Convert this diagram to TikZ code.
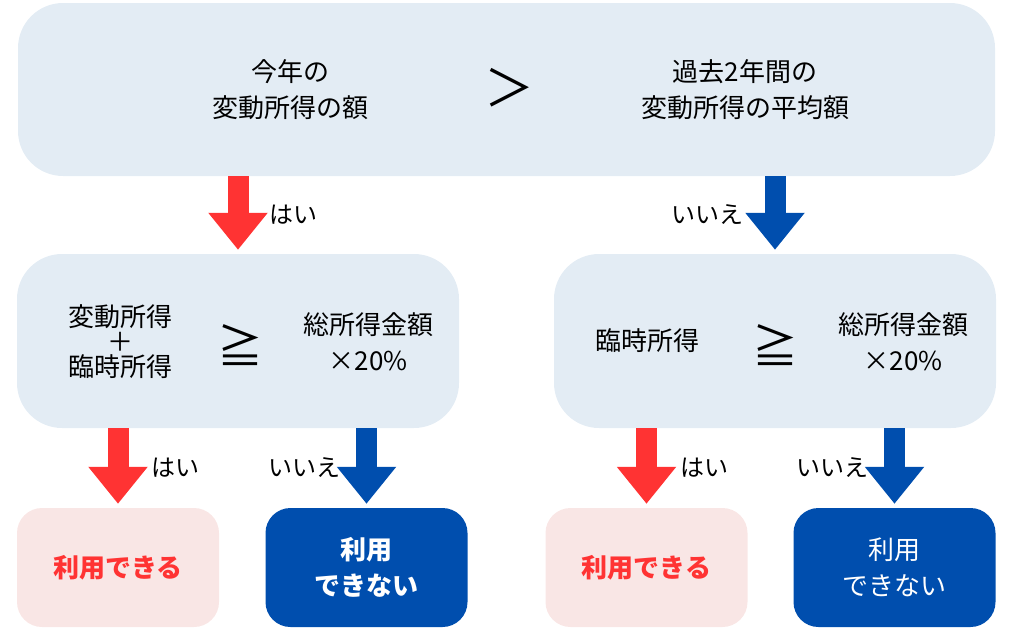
\documentclass[tikz,border=0pt]{standalone}
\usepackage{fontspec}
\setmainfont{Noto Sans CJK JP}
\usetikzlibrary{arrows.meta}
\definecolor{boxfill}{HTML}{E3ECF4}
\definecolor{yescol}{HTML}{FF3333}
\definecolor{nocol}{HTML}{004EAE}
\definecolor{okfill}{HTML}{F9E6E5}
\tikzset{
  question/.style={fill=boxfill, rounded corners=45pt, inner sep=0pt},
  result/.style={rounded corners=25pt, inner sep=0pt, minimum width=202pt, minimum height=119pt, align=center},
  bigtext/.style={align=center, inner sep=0pt, font=\fontsize{26}{36}\selectfont},
  cmp/.style={inner sep=0pt, font=\fontsize{46}{46}\selectfont},
  answer/.style={inner sep=0pt, text=black, font=\fontsize{24}{24}\selectfont},
  yesarrow/.style={yescol, line width=21pt, -{Triangle[width=57pt,length=37pt]}, shorten >=4pt},
  noarrow/.style={nocol, line width=21pt, -{Triangle[width=57pt,length=37pt]}, shorten >=4pt}
}

\begin{document}
\begin{tikzpicture}[x=1pt, y=-1pt]
  \useasboundingbox (0,0) rectangle (1024,629);
  % question boxes
  \node[question, minimum width=977pt, minimum height=173pt] (top) at (506.5,89.5) {};
  \node[question, minimum width=442pt, minimum height=174pt] (midL) at (238,341) {};
  \node[question, minimum width=442pt, minimum height=174pt] (midR) at (775,341) {};
  % texts in the boxes
  \node[bigtext] (nowtxt) at (290,89.5) {今年の\\変動所得の額};
  \node[cmp, font=\fontsize{50}{50}\selectfont] (gt) at (509,88) {＞};
  \node[bigtext] (pasttxt) at (745,89.5) {過去2年間の\\変動所得の平均額};
  \node[bigtext, font=\fontsize{26}{25}\selectfont] (sumL) at (120,342) {変動所得\\＋\\臨時所得};
  \node[cmp] (geL) at (240,345) {≧};
  \node[bigtext] (totL) at (368,341.5) {総所得金額\\×20\%};
  \node[bigtext] (tmpR) at (647,341) {臨時所得};
  \node[cmp] (geR) at (775,345) {≧};
  \node[bigtext] (totR) at (903,342) {総所得金額\\×20\%};
  % results
  \node[result, fill=okfill, text=yescol, font=\bfseries\fontsize{26}{36}\selectfont] (okL) at (118,567.5) {利用できる};
  \node[result, fill=nocol, text=white, font=\bfseries\fontsize{26}{36}\selectfont] (ngL) at (366.5,567.5) {利用\\できない};
  \node[result, fill=okfill, text=yescol, font=\bfseries\fontsize{26}{36}\selectfont] (okR) at (646.5,567.5) {利用できる};
  \node[result, fill=nocol, text=white, font=\fontsize{26}{36}\selectfont] (ngR) at (894.5,567.5) {利用\\できない};
  % arrows
  \draw[yesarrow] (midL.north |- top.south) -- (midL.north) node[answer, pos=.5, anchor=west, xshift=21pt] {はい};
  \draw[noarrow] (midR.north |- top.south) -- (midR.north) node[answer, pos=.5, anchor=east, xshift=-21pt] {いいえ};
  \draw[yesarrow] (okL.north |- midL.south) -- (okL.north) node[answer, pos=.5, anchor=west, xshift=23pt] {はい};
  \draw[noarrow] (ngL.north |- midL.south) -- (ngL.north) node[answer, pos=.5, anchor=east, xshift=-16pt] {いいえ};
  \draw[yesarrow] (okR.north |- midR.south) -- (okR.north) node[answer, pos=.5, anchor=west, xshift=23pt] {はい};
  \draw[noarrow] (ngR.north |- midR.south) -- (ngR.north) node[answer, pos=.5, anchor=east, xshift=-16pt] {いいえ};
\end{tikzpicture}
\end{document}
